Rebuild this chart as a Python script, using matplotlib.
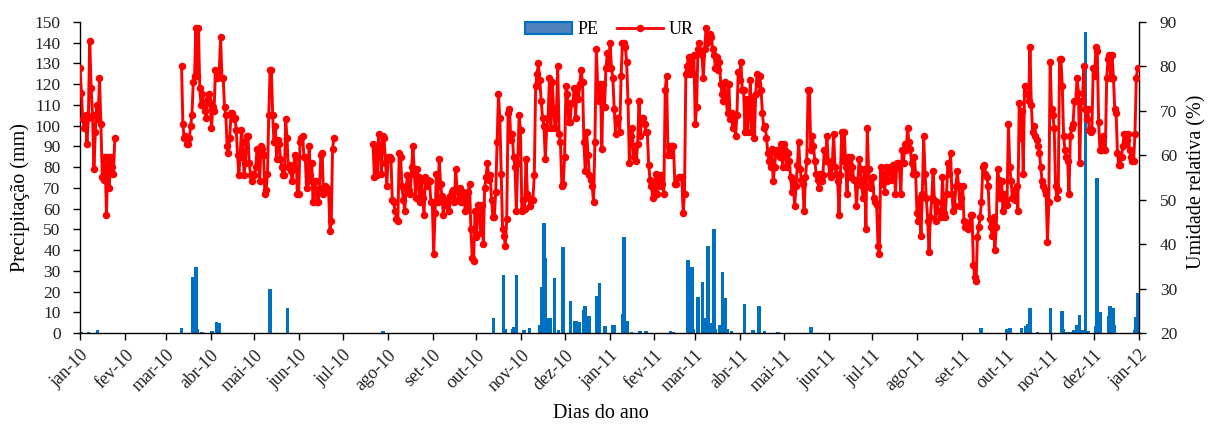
import matplotlib
matplotlib.use("Agg")
import matplotlib.pyplot as plt
from matplotlib.patches import Patch
from matplotlib.lines import Line2D
import numpy as np
import pandas as pd

plt.rcParams['font.family'] = ['Liberation Serif', 'DejaVu Serif']

# ---------------- data ----------------
# Relative humidity (UR, %) in continuous measurement periods
ur_a_period = ("2010-01-01", "2010-01-25")
ur_a = [79.7, 74.1, 68.1, 66.2, 69.0, 62.5, 68.5, 85.8, 75.1, 69.0, 56.9, 65.3, 71.3,
        68.1, 77.4, 67.1, 55.0, 54.5, 59.7, 46.6, 59.7, 52.7, 59.7, 57.3, 55.9, 63.9]

ur_b_period = ("2010-03-12", "2010-06-25")
ur_b = [80.2, 67.1, 63.9, 64.3, 62.5, 62.5, 63.9, 66.7, 69.0, 76.5,
        77.9, 88.6, 77.9, 88.6, 75.1, 71.3, 73.7, 71.8, 69.9, 68.5,
        72.7, 73.7, 71.8, 66.2, 70.9, 69.9, 79.3, 77.4, 78.3, 79.3,
        86.7, 77.4, 77.4, 70.9, 69.0, 62.0, 60.6, 63.9, 69.5, 69.5,
        68.1, 68.5, 65.7, 60.1, 55.5, 59.7, 65.7, 62.9, 55.5, 58.3,
        64.3, 64.3, 58.3, 55.5, 54.1, 55.9, 55.5, 57.3, 61.5, 61.1,
        54.1, 62.0, 61.5, 60.1, 51.3, 52.2, 55.9, 69.0, 79.3, 79.3,
        69.0, 62.9, 66.7, 59.2, 63.4, 62.5, 59.2, 57.3, 55.5, 55.5,
        68.1, 63.9, 57.3, 57.8, 56.4, 54.1, 56.9, 60.1, 59.7, 51.3,
        51.3, 62.9, 63.9, 64.3, 59.7, 59.7, 52.7, 54.1, 62.0, 55.5,
        58.3, 49.4, 54.1, 54.1, 49.4, 49.4, 52.7, 60.1, 60.6, 51.3,
        53.1, 52.7, 52.7, 51.7, 42.9, 45.2, 61.5, 63.9]

ur_c1_period = ("2010-07-22", "2011-02-16")
ur_c1 = [62.5, 55.0, 62.0, 55.5, 64.8, 62.0, 55.9, 64.3, 63.9, 58.3,
         53.1, 59.7, 59.7, 59.2, 49.9, 49.4, 47.5, 45.7, 45.2, 60.6,
         59.7, 53.1, 49.9, 47.5, 52.7, 55.5, 52.2, 51.3, 57.3, 62.0,
         55.9, 50.3, 56.9, 55.0, 49.4, 54.1, 50.3, 46.6, 55.0, 53.1,
         54.5, 54.1, 49.4, 49.4, 37.7, 47.1, 55.9, 49.4, 59.2, 53.6,
         50.8, 46.6, 49.9, 48.9, 48.9, 47.5, 50.8, 51.7, 52.2, 49.4,
         56.9, 52.2, 49.9, 52.7, 49.4, 51.7, 50.3, 47.5, 48.5, 51.7,
         53.6, 43.3, 36.8, 36.3, 47.5, 41.5, 48.9, 48.9, 42.4, 48.9,
         40.1, 52.7, 55.0, 58.3, 54.5, 55.5, 49.9, 46.1, 46.1, 51.7,
         62.9, 73.7, 68.5, 55.9, 43.3, 41.9, 39.6, 45.7, 69.5, 70.4,
         63.4, 64.8, 59.7, 57.3, 47.5, 58.3, 69.0, 65.7, 47.5, 49.9,
         48.0, 59.2, 51.3, 50.3, 48.5, 49.9, 49.9, 55.5, 75.5, 78.3,
         80.7, 76.9, 72.3, 68.5, 66.7, 59.2, 66.2, 68.5, 77.4, 66.2,
         76.5, 70.4, 66.2, 68.5, 80.2, 64.8, 62.9, 53.1, 53.6, 59.7,
         75.5, 73.7, 67.6, 67.6, 71.8, 71.8, 75.1, 68.5, 75.1, 72.7,
         76.0, 79.3, 76.5, 62.9, 56.4, 65.3, 60.1, 55.5, 54.5, 53.1,
         49.4, 62.9, 83.9, 76.0, 72.3, 76.0, 61.5, 76.0, 70.9, 79.7,
         83.0, 79.7, 85.3, 79.7, 77.4, 70.4, 64.8, 68.5, 68.5, 65.3,
         77.9, 85.3, 85.3, 84.4, 81.1, 72.3, 58.3, 64.3, 66.2, 59.7,
         62.0, 58.7, 62.5, 72.3, 64.3, 68.5, 68.5, 67.1, 65.3, 65.3,
         57.8, 54.5, 53.1, 50.3, 53.1, 55.9, 51.3, 55.5, 53.1, 55.5,
         53.6, 51.3, 74.6, 77.9, 60.1, 62.0, 60.1, 62.0, 62.0, 53.6,
         53.6]

ur_c2_period = ("2011-02-18", "2011-10-02")
ur_c2 = [55.0, 55.0, 55.0, 47.1, 51.3, 78.3, 80.2, 82.1, 78.3, 82.1,
         78.3, 82.5, 67.1, 70.9, 83.9, 85.3, 83.0, 82.5, 77.4, 83.9,
         88.6, 85.3, 86.7, 87.2, 86.7, 83.9, 82.5, 79.7, 82.1, 79.3,
         81.1, 76.0, 73.7, 72.3, 76.5, 72.3, 69.5, 76.0, 68.1, 69.5,
         66.2, 69.0, 64.3, 69.0, 78.8, 76.9, 81.1, 74.6, 74.6, 65.3,
         72.7, 65.3, 69.5, 76.9, 65.3, 73.2, 63.9, 73.7, 78.3, 76.0,
         77.9, 74.6, 69.5, 66.2, 66.7, 63.9, 60.6, 58.7, 57.3, 61.5,
         54.1, 57.3, 60.6, 61.1, 61.1, 59.7, 62.5, 57.3, 62.5, 61.1,
         57.3, 60.6, 58.7, 55.0, 51.7, 54.1, 48.5, 53.1, 57.8, 62.9,
         56.9, 54.5, 53.6, 47.5, 55.0, 58.7, 74.6, 74.6, 61.1, 64.3,
         62.0, 58.7, 55.9, 54.5, 52.7, 55.9, 54.1, 55.5, 61.1, 58.7,
         64.3, 58.7, 55.9, 55.0, 58.3, 64.8, 57.3, 55.9, 54.1, 46.6,
         55.5, 65.3, 58.7, 65.3, 57.3, 51.3, 59.7, 55.0, 59.7, 57.3,
         54.5, 54.5, 48.5, 54.1, 59.2, 56.9, 53.1, 50.3, 56.9, 43.3,
         66.2, 56.9, 53.1, 52.7, 55.0, 50.3, 49.4, 48.9, 39.6, 37.7,
         57.3, 53.6, 55.9, 51.7, 57.3, 54.1, 56.9, 57.3, 54.5, 57.8,
         56.9, 51.3, 58.3, 58.3, 57.3, 51.3, 61.1, 58.3, 62.5, 61.1,
         66.2, 62.9, 61.5, 58.3, 55.9, 59.7, 55.9, 47.1, 45.2, 50.3,
         41.9, 51.3, 64.3, 55.9, 50.3, 45.2, 38.2, 46.1, 50.3, 56.4,
         49.9, 45.2, 49.4, 47.5, 47.5, 46.1, 55.0, 47.1, 46.1, 51.3,
         58.3, 55.9, 60.6, 51.3, 47.5, 48.5, 53.1, 56.4, 53.1, 48.5,
         50.3, 53.1, 45.2, 43.8, 44.7, 43.3, 43.8, 46.6, 46.6, 35.4,
         32.6, 31.7, 41.5, 43.8, 46.1, 49.4, 57.3, 57.8, 55.9, 55.0,
         53.1, 45.7, 43.8, 41.9, 46.1, 38.7, 43.8, 56.9, 54.5, 50.3,
         54.1, 47.5, 51.3, 49.9, 48.9]

ur_c3_period = ("2011-10-03", "2012-01-01")
ur_c3 = [67.1, 57.3, 54.1, 50.3, 52.2, 49.9, 53.1, 47.5, 71.8, 63.9,
         69.9, 55.9, 75.5, 73.7, 73.7, 72.3, 84.4, 71.3, 65.3, 66.7,
         64.3, 63.4, 62.0, 60.6, 57.3, 54.1, 53.1, 52.2, 51.3, 40.5,
         49.4, 81.1, 70.4, 69.0, 66.2, 53.1, 50.3, 52.2, 81.6, 81.6,
         75.5, 64.3, 61.1, 59.7, 58.7, 51.3, 64.3, 66.2, 67.1, 72.3,
         72.3, 77.4, 74.1, 58.3, 72.3, 72.3, 80.2, 70.4, 68.1, 70.4,
         65.7, 65.3, 65.7, 79.7, 77.9, 84.4, 83.5, 67.6, 61.1, 61.1,
         64.3, 61.5, 61.1, 77.4, 81.6, 82.5, 77.4, 82.5, 77.4, 70.4,
         69.5, 60.6, 57.8, 57.8, 59.7, 62.0, 64.8, 62.5, 63.4, 64.8,
         61.1, 59.7, 58.7, 58.7, 64.8, 77.4, 79.7, 79.7]

# Daily precipitation events (PE, mm); all other days zero
pe_dates = ['2010-01-02', '2010-01-07', '2010-01-13', '2010-03-12', '2010-03-20', '2010-03-22',
            '2010-03-23', '2010-03-26', '2010-04-02', '2010-04-05', '2010-04-07', '2010-05-12',
            '2010-05-24', '2010-07-29', '2010-10-13', '2010-10-20', '2010-10-21', '2010-10-26',
            '2010-10-27', '2010-10-29', '2010-11-03', '2010-11-07', '2010-11-14', '2010-11-15',
            '2010-11-17', '2010-11-18', '2010-11-19', '2010-11-21', '2010-11-24', '2010-11-27',
            '2010-11-30', '2010-12-05', '2010-12-08', '2010-12-09', '2010-12-11', '2010-12-14',
            '2010-12-15', '2010-12-18', '2010-12-23', '2010-12-25', '2010-12-29', '2011-01-03',
            '2011-01-04', '2011-01-10', '2011-01-11', '2011-01-13', '2011-01-16', '2011-01-22',
            '2011-01-26', '2011-02-12', '2011-02-14', '2011-02-24', '2011-02-27', '2011-02-28',
            '2011-03-03', '2011-03-06', '2011-03-07', '2011-03-10', '2011-03-12', '2011-03-14',
            '2011-03-15', '2011-03-18', '2011-03-20', '2011-03-22', '2011-03-23', '2011-03-26',
            '2011-04-04', '2011-04-10', '2011-04-14', '2011-04-18', '2011-04-27', '2011-05-20',
            '2011-09-14', '2011-10-02', '2011-10-04', '2011-10-12', '2011-10-15', '2011-10-16',
            '2011-10-18', '2011-10-23', '2011-11-01', '2011-11-09', '2011-11-10', '2011-11-12',
            '2011-11-14', '2011-11-16', '2011-11-17', '2011-11-19', '2011-11-21', '2011-11-23',
            '2011-11-25', '2011-11-27', '2011-12-02', '2011-12-03', '2011-12-05', '2011-12-11',
            '2011-12-12', '2011-12-14', '2011-12-15', '2011-12-29', '2011-12-30', '2011-12-31']
pe_vals = [0.5, 0.6, 1.3, 2.5, 27, 32, 2, 0.5, 1, 5.5,
           5, 21, 12, 1, 7, 28, 2, 2, 3, 28,
           1.5, 2.5, 4, 22, 53, 36, 7, 7, 26.5, 1.5,
           41.5, 15.5, 6, 6, 5.5, 11, 13, 8, 18, 24,
           3.5, 4, 4, 9, 46.5, 6, 0.5, 1, 1, 1,
           0.5, 35, 32, 2, 17.5, 24.5, 7, 42, 5, 50,
           2, 4, 29.5, 17, 2, 1, 14, 1.5, 13, 1,
           0.5, 3, 2.5, 2, 2.5, 2.5, 3.5, 4.5, 12, 0.5,
           12, 10.5, 2, 0.5, 0.5, 0.5, 1.5, 4, 8.5, 1.5,
           145, 1, 3.5, 75, 10, 8, 13, 12, 4, 1.5,
           7.5, 19.5]

month_abbr = ['jan', 'fev', 'mar', 'abr', 'mai', 'jun', 'jul', 'ago', 'set', 'out', 'nov', 'dez']

# ---------------- figure ----------------
fig = plt.figure(figsize=(12.09, 4.24), dpi=100)
ax = fig.add_axes([80 / 1209, 1 - 333 / 424, (1139 - 80) / 1209, (333 - 22) / 424])
ax2 = ax.twinx()

bar_color = '#0070C0'
ax.bar(pd.to_datetime(pe_dates), pe_vals, width=2.4, color=bar_color, linewidth=0, zorder=2)


def seg(period, vals):
    return pd.date_range(period[0], period[1], periods=len(vals))


segments = [
    (seg(ur_a_period, ur_a), ur_a),
    (seg(ur_b_period, ur_b), ur_b),
]
c_dates = np.concatenate([seg(ur_c1_period, ur_c1).values,
                          seg(ur_c2_period, ur_c2).values,
                          seg(ur_c3_period, ur_c3).values])
c_vals = ur_c1 + ur_c2 + ur_c3
segments.append((pd.to_datetime(c_dates), c_vals))

for d, v in segments:
    ax2.plot(d, v, color='#FF0000', linewidth=2.1, marker='o', markersize=4.4,
             markerfacecolor='#FF0000', markeredgecolor='#FF0000', zorder=3)

# axes
ax.set_xlim(pd.Timestamp('2010-01-01'), pd.Timestamp('2012-01-01'))
ax.set_ylim(0, 150)
ax2.set_ylim(20, 90)
ax.set_yticks(np.arange(0, 151, 10))
ax2.set_yticks(np.arange(20, 91, 10))

ticks = pd.date_range('2010-01-01', '2012-01-01', freq='MS')
ax.set_xticks(ticks)
ax.set_xticklabels([f"{month_abbr[t.month - 1]}-{t.year % 100:02d}" for t in ticks],
                   rotation=45, ha='right', rotation_mode='anchor')

for a in (ax, ax2):
    a.spines['top'].set_visible(False)
    for s in a.spines.values():
        s.set_color('#000000')
        s.set_linewidth(1.0)
ax.spines['right'].set_visible(False)
ax2.spines['left'].set_visible(False)
ax2.spines['bottom'].set_visible(False)

ax.tick_params(axis='y', direction='out', length=5, width=1, labelsize=12.5,
               colors='#000000', labelcolor='#222222', pad=9)
ax.tick_params(axis='x', direction='out', length=5, width=1, labelsize=13,
               colors='#000000', labelcolor='#222222', pad=5)
ax2.tick_params(axis='y', direction='out', length=5, width=1, labelsize=12.5,
                colors='#000000', labelcolor='#222222', pad=10)

ax.set_ylabel('Precipitação (mm)', fontsize=14.5)
ax.yaxis.set_label_coords(-0.047, 0.437)
ax2.set_ylabel('Umidade relativa (%)', fontsize=14.5)
ax2.yaxis.set_label_coords(1.046, 0.486)
ax.set_xlabel('Dias do ano', fontsize=14.5)
ax.xaxis.set_label_coords(0.492, -0.228)

handles = [Patch(facecolor='#4F81BD', edgecolor=bar_color, linewidth=1.5),
           Line2D([0], [0], color='#FF0000', linewidth=2, marker='o', markersize=4.4)]
leg = ax2.legend(handles, ['PE', 'UR'], loc='center', bbox_to_anchor=(0.5, 0.975),
                 ncol=2, frameon=False, fontsize=13, handlelength=2.6,
                 handletextpad=0.3, columnspacing=1.0)

fig.savefig('out.png', dpi=100)
